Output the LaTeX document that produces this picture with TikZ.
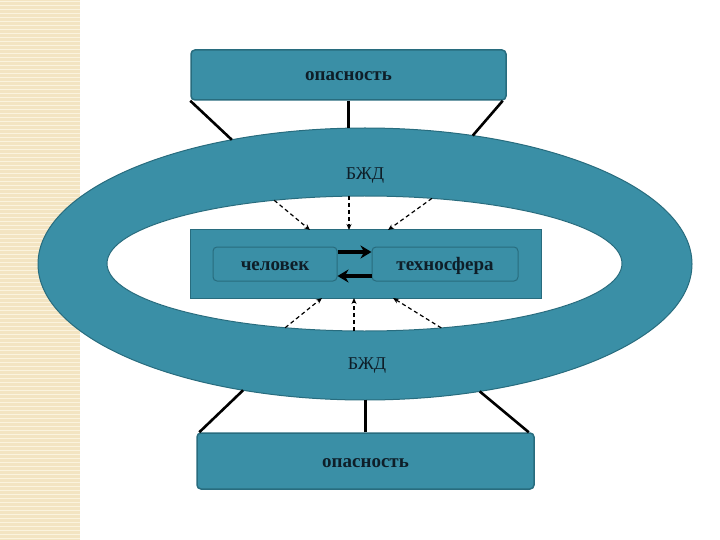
\documentclass[tikz,border=0pt]{standalone}
\usepackage{fontspec}
\setmainfont{Liberation Serif}
\usepackage{tikz}
\usetikzlibrary{positioning,arrows.meta,shapes.geometric,calc}
\definecolor{sea}{RGB}{58,143,166}
\definecolor{seaedge}{RGB}{40,108,126}
\definecolor{ink}{RGB}{14,30,40}
\definecolor{sand}{RGB}{243,228,194}
\definecolor{sandline}{RGB}{251,243,222}

\begin{document}
\begin{tikzpicture}[x=1pt, y=-1pt, >=Stealth,
    dangerbox/.style={draw=seaedge, line width=1.5pt, fill=sea, rounded corners=4pt,
        inner sep=0pt, text height=12pt, text depth=0pt,
        font=\fontsize{19}{21}\selectfont\bfseries, text=ink},
    innerbox/.style={draw=seaedge, line width=1pt, fill=sea, rounded corners=4pt,
        inner sep=0pt, minimum height=34pt, text height=12pt, text depth=0pt,
        font=\fontsize{19}{21}\selectfont\bfseries, text=ink},
    ringlabel/.style={text height=13pt, text depth=0pt, font=\fontsize{18}{20}\selectfont, text=ink},
    tie/.style={line width=2.6pt, black},
    ray/.style={->, dash pattern=on 4pt off 3pt, line width=1.2pt, black,
        >={Stealth[length=6pt,width=5pt]}},
    swap/.style={->, line width=3.5pt, black, >={Stealth[length=11pt,width=13pt]}}]

    \useasboundingbox (0,0) rectangle (720,540);

    % --- STRIPED MARGIN ---
    \fill[sand] (0,0) rectangle (80,540);
    \foreach \y in {2,6,...,538} {
        \draw[sandline, line width=1pt] (0,\y) -- (80,\y);
    }

    % --- RING (BZhD) ---
    \node[ellipse, draw=seaedge, line width=1pt, fill=sea, inner sep=0pt, outer sep=0pt,
        minimum width=654pt, minimum height=272pt] (ring) at (365,264) {};
    \node[ellipse, draw=seaedge, line width=1pt, fill=white, inner sep=0pt, outer sep=0pt,
        minimum width=515pt, minimum height=135pt] (hole) at (364.5,263.5) {};

    \node[ringlabel] (bzhdtop) at (365,173) {БЖД};
    \node[ringlabel] (bzhdbot) at (367,363) {БЖД};

    % --- CORE: man and technosphere ---
    \node[draw=seaedge, line width=1pt, fill=sea, inner sep=0pt,
        minimum width=351pt, minimum height=68pt] (core) at (365.5,264) {};
    \node[innerbox, minimum width=124pt] (man) at (275,264) {человек};
    \node[innerbox, minimum width=146pt] (techno) at (445,264) {техносфера};

    \draw[swap] ([yshift=12pt]man.east) -- ([yshift=12pt]techno.west);
    \draw[swap] ([yshift=-12pt]techno.west) -- ([yshift=-12pt]man.east);

    % --- DANGER BOXES ---
    \node[dangerbox, minimum width=315pt, minimum height=50pt] (top) at (348.5,75) {опасность};
    \node[dangerbox, minimum width=337pt, minimum height=56pt] (bot) at (365.5,461) {опасность};

    \draw[tie] (top.south west) -- (ring.137);
    \draw[tie] (top.south) -- (top.south |- ring.north);
    \draw[tie] ([xshift=-4pt]top.south east) -- (ring.50);

    \draw[tie] ([xshift=3pt]bot.north west) -- (ring.226);
    \draw[tie] (bot.north) -- (bot.north |- ring.south);
    \draw[tie] ([xshift=-6pt]bot.north east) -- (ring.312);

    % --- DASHED RAYS ---
    \coordinate (hitnw) at (310,230);
    \coordinate (hitn)  at (349,230);
    \coordinate (hitne) at (388,230);
    \coordinate (hitsw) at (322,298);
    \coordinate (hits)  at (354,298);
    \coordinate (hitse) at (393,298);

    \draw[ray] (hole.145) -- (hitnw);
    \draw[ray] (hitn |- hole.north) -- (hitn);
    \draw[ray] (hole.44) -- (hitne);
    \draw[ray] (hole.219) -- (hitsw);
    \draw[ray] (hits |- hole.south) -- (hits);
    \draw[ray] (hole.320) -- (hitse);

\end{tikzpicture}
\end{document}
